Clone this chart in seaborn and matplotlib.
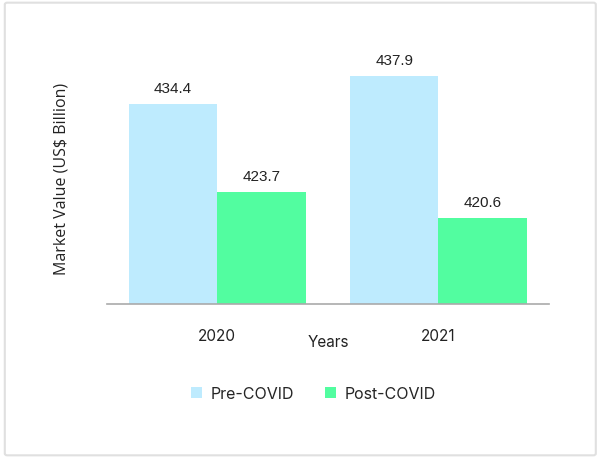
import matplotlib
matplotlib.use("Agg")
import matplotlib.pyplot as plt
import seaborn as sns
import pandas as pd
from matplotlib.patches import FancyBboxPatch

# data
years = ["2020", "2021"]
periods = ["Pre-COVID", "Post-COVID"]
pre_covid = [434.4, 437.9]
post_covid = [423.7, 420.6]
colors = ["#BEEBFE", "#52FDA0"]

df = pd.DataFrame({
    "Year": years * 2,
    "Period": [periods[0]] * 2 + [periods[1]] * 2,
    "Value": pre_covid + post_covid,
})

sns.set_style("white")
plt.rcParams["font.family"] = ["Inter", "DejaVu Sans"]

fig = plt.figure(figsize=(6, 4.6), dpi=100)
ax = fig.add_axes([0.178, 0.337, 0.737, 0.598])

sns.barplot(data=df, x="Year", y="Value", hue="Period", palette=colors,
            saturation=1, width=0.8, linewidth=0, ax=ax)

ax.set_xlim(-0.5, 1.5)
ax.set_ylim(410.1, 443.6)

for c in ax.containers:
    ax.bar_label(c, fmt="%.1f", padding=6.5, fontsize=11,
                 family="Liberation Sans", color="#222222")

# axes styling
for s in ["top", "right", "left"]:
    ax.spines[s].set_visible(False)
ax.spines["bottom"].set_color("#aaaaaa")
ax.spines["bottom"].set_linewidth(1.2)
ax.set_yticks([])
ax.set_xticks([-0.5, 0.5, 1.5], minor=True)
ax.tick_params(axis="x", which="minor", length=7, width=1.5, color="#cccccc",
               direction="out")
ax.tick_params(axis="x", which="major", length=0, pad=17, labelsize=11,
               labelcolor="#222222")

ax.set_xlabel("Years", fontsize=11, color="#222222", va="center")
ax.xaxis.set_label_coords(0.5, -0.138)
ax.set_ylabel("Market Value (US$ Billion)", fontsize=11.5, color="#222222",
              family="Open Sans", va="center")
ax.yaxis.set_label_coords(-0.102, 0.46)

ax.legend(loc="center", bbox_to_anchor=(0.468, -0.325), ncol=2, frameon=False,
          handlelength=0.67, handleheight=0.67, handletextpad=0.55,
          columnspacing=1.95, fontsize=11.5)

# outer border
fig.patches.append(FancyBboxPatch((0.008, 0.008), 0.985, 0.984,
                                  boxstyle="round,pad=0,rounding_size=0.004",
                                  transform=fig.transFigure, fill=False,
                                  edgecolor="#e0e0e0", linewidth=1.5))

fig.savefig("out.png", dpi=100)
